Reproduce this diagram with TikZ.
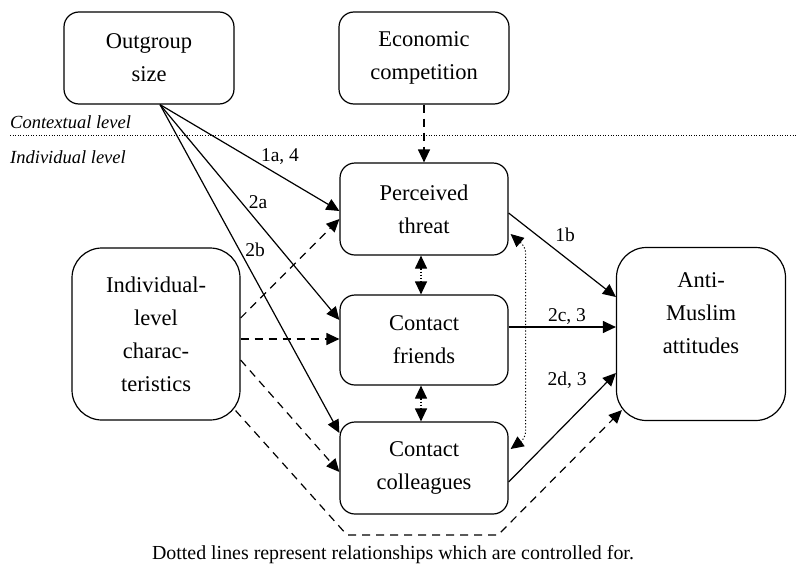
\documentclass[tikz,border=0pt]{standalone}
\usepackage{fontspec}
\setmainfont{Liberation Serif}
\usetikzlibrary{arrows.meta,calc}
\begin{document}
\begin{tikzpicture}[x=1pt,y=-1pt,
  box/.style={draw,line width=1.2pt,rounded corners=15pt,align=center,inner sep=0pt,
    minimum width=168pt,font=\fontsize{22.5}{33}\selectfont},
  bigbox/.style={box,rounded corners=30pt,minimum height=172pt},
  conn/.style={line width=1.2pt,-{Triangle[length=13pt,width=12pt]}},
  dconn/.style={conn,dash pattern=on 8pt off 6pt},
  biconn/.style={line width=1.2pt,{Triangle[length=13pt,width=12pt]}-{Triangle[length=13pt,width=12pt]},dash pattern=on 1.2pt off 2pt},
  elabel/.style={font=\fontsize{19.5}{22}\selectfont,inner sep=0pt},
  lvl/.style={font=\fontsize{18.5}{22}\selectfont\itshape,anchor=west,inner sep=0pt}]
\useasboundingbox (0,0) rectangle (797,573);

\node[box,minimum width=170pt,minimum height=92pt] (outgroup) at (149,58) {Outgroup\\size};
\node[box,minimum width=170pt,minimum height=92pt] (econ) at (424,58) {Economic\\competition};
\node[box,minimum height=92pt] (threat) at (424,209) {Perceived\\threat};
\node[box,minimum height=90pt] (friends) at (424,340) {Contact\\friends};
\node[box,minimum height=92pt] (coll) at (424,468) {Contact\\colleagues};
\node[bigbox] (indiv) at (156,334) {Individual-\\level\\charac-\\teristics};
\node[bigbox,minimum width=169pt,minimum height=173pt] (anti) at (701,334) {Anti-\\Muslim\\attitudes\\[0pt]\strut};

\node[lvl] (ctx) at (10,122) {Contextual level};
\node[lvl] (ind) at (10,157) {Individual level};
\coordinate (lineL) at (10,135);
\coordinate (lineR) at (797,135);
\draw[line width=0.9pt,dash pattern=on 1pt off 1.6pt] (lineL) -- (lineR);

% outgroup size effects
\draw[conn] ($(outgroup.south)+(11,0)$) -- ($(threat.west)+(0,2)$);
\draw[conn] ($(outgroup.south)+(11,0)$) -- ($(friends.west)+(0,-20)$);
\draw[conn] ($(outgroup.south)+(11,0)$) -- ($(coll.west)+(0,-35)$);
\node[elabel] (l1a) at (280,157) {1a, 4};
\node[elabel] (l2a) at (258,202) {2a};
\node[elabel] (l2b) at (255,250) {2b};

% economic competition
\draw[dconn] (econ.south) -- (threat.north);

% individual-level characteristics
\draw[dconn] ($(indiv.east)+(0,-16)$) -- ($(threat.west)+(0,10)$);
\draw[dconn] ($(indiv.east)+(0,5)$) -- ($(friends.west)+(0,-1)$);
\draw[dconn] ($(indiv.east)+(0,26)$) -- ($(coll.west)+(0,4)$);
\draw[dconn] ($(indiv.south east)+(-5,-10)$) -- (347,535) -- (498,535) -- ($(anti.south west)+(6,-11)$);

% to anti-Muslim attitudes
\draw[conn] ($(threat.east)+(0,4)$) -- ($(anti.west)+(0,-37)$);
\draw[conn] ($(friends.east)+(0,-13)$) -- ($(anti.west)+(0,-7)$);
\draw[conn] ($(coll.east)+(0,14)$) -- ($(anti.west)+(0,39)$);
\node[elabel] (l1b) at (565,235) {1b};
\node[elabel] (l2c) at (567,317) {2c, 3};
\node[elabel] (l2d) at (567,380) {2d, 3};

% controlled relationships
\draw[biconn] ($(threat.south)+(-3,0)$) -- ($(friends.north)+(-3,0)$);
\draw[biconn] ($(friends.south)+(-3,0)$) -- ($(coll.north)+(-3,0)$);
\draw[biconn,rounded corners=6pt,line width=1pt] ($(threat.east)+(2,25)$) -- ($(threat.east)+(17,38)$) -- ($(coll.east)+(17,-30)$) -- ($(coll.east)+(2,-19)$);

\node[font=\fontsize{19.9}{22}\selectfont,inner sep=0pt] (caption) at (393,555) {Dotted lines represent relationships which are controlled for.};
\end{tikzpicture}
\end{document}
